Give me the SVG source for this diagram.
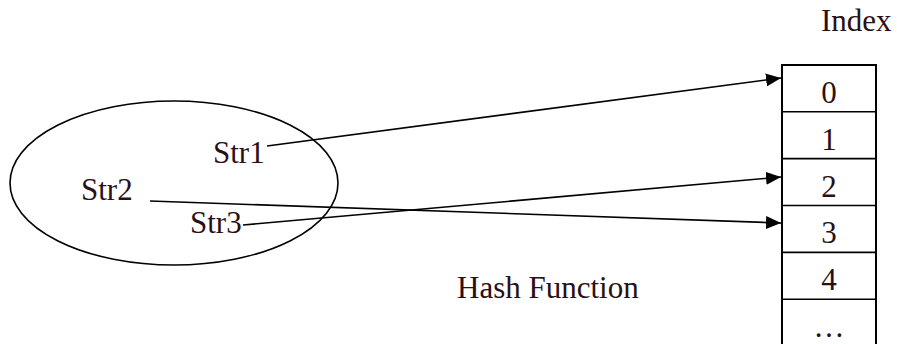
<svg xmlns="http://www.w3.org/2000/svg" width="897" height="344" viewBox="0 0 897 344">
<defs>
<style>
text{font-family:"Liberation Serif","Times New Roman",serif;font-size:31px;fill:#2a1015}
.ln{stroke:#000;stroke-width:1.6;fill:none}
.cell{stroke:#000;stroke-width:2;fill:#fff}
</style>
<marker id="ah" viewBox="0 0 15 13" refX="15" refY="6.5" markerWidth="15" markerHeight="13" markerUnits="userSpaceOnUse" orient="auto">
<path d="M0,0 L15,6.5 L0,13 Z" fill="#000"/>
</marker>
</defs>
<rect width="897" height="344" fill="#fff"/>
<g id="set">
<ellipse class="ln" cx="174" cy="183" rx="164" ry="82"/>
<text x="213" y="163">Str1</text>
<text x="81" y="200">Str2</text>
<text x="190" y="233">Str3</text>
</g>
<g id="table">
<rect class="cell" x="782" y="65" width="94" height="290"/>
<line class="ln" x1="782" y1="111.7" x2="876" y2="111.7"/>
<line class="ln" x1="782" y1="158.6" x2="876" y2="158.6"/>
<line class="ln" x1="782" y1="205.5" x2="876" y2="205.5"/>
<line class="ln" x1="782" y1="252.4" x2="876" y2="252.4"/>
<line class="ln" x1="782" y1="299.3" x2="876" y2="299.3"/>
<g text-anchor="middle">
<text x="829" y="102.7">0</text>
<text x="829" y="149.6">1</text>
<text x="829" y="196.5">2</text>
<text x="829" y="243.4">3</text>
<text x="829" y="289.5">4</text>
<text x="829" y="337">…</text>
</g>
</g>
<g id="labels">
<text x="821" y="31">Index</text>
<text x="457" y="298">Hash Function</text>
</g>
<g id="connectors">
<line class="ln" x1="267" y1="146" x2="781" y2="78" marker-end="url(#ah)"/>
<line class="ln" x1="150" y1="201" x2="781" y2="223" marker-end="url(#ah)"/>
<line class="ln" x1="243" y1="225" x2="781" y2="177" marker-end="url(#ah)"/>
</g>
</svg>
